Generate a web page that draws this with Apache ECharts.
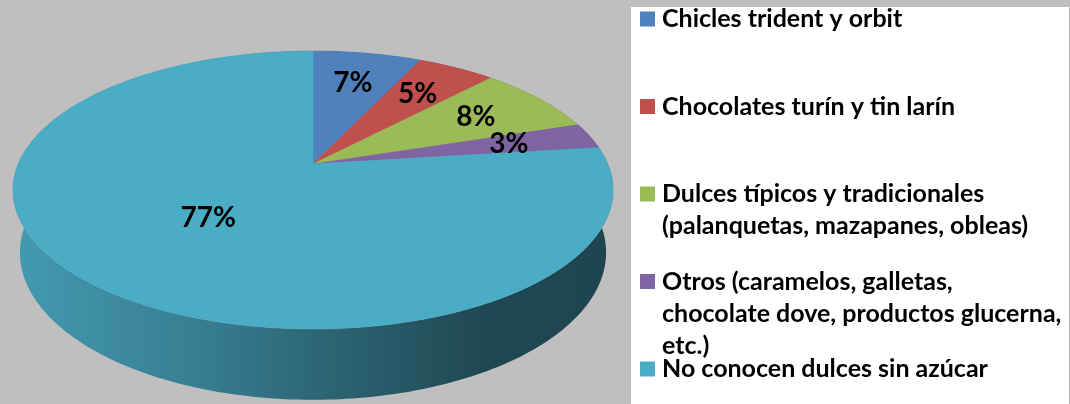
<!DOCTYPE html>
<html>
<head>
<meta charset="utf-8">
<script src="https://cdn.jsdelivr.net/npm/echarts@6/dist/echarts.min.js"></script>
<style>
  html, body { margin: 0; padding: 0; background: #bfbfbf; }
  #chart { width: 1070px; height: 404px; }
</style>
</head>
<body>
<div id="chart"></div>
<script>
// Categories (legend text, wrapped as printed) and their shares in percent
const categories = [
  'Chicles trident y orbit',
  'Chocolates turín y tin larín',
  'Dulces típicos y tradicionales\n(palanquetas, mazapanes, obleas)',
  'Otros (caramelos, galletas,\nchocolate dove, productos glucerna,\netc.)',
  'No conocen dulces sin azúcar'
];
const percentages = [7, 5, 8, 3, 77];
const sliceColors = ['#4f81bd', '#c0504d', '#9bbb59', '#8064a2', '#4bacc6'];

// ---- perspective camera for the tilted 3D pie ----
const CX = 313, CY = 164;            // screen position of the pie centre
const FOCAL = 1403, DIST = 4.76;     // focal length (px) and camera distance (radii)
const SIN_T = 0.455, COS_T = Math.sqrt(1 - SIN_T * SIN_T);  // tilt of the disc
const THICK = 0.24;                  // disc thickness (radii)

// u: right, w: away from viewer, depth: 0 = top face, 1 = bottom face
function project(u, w, depth) {
  const yc = w * SIN_T - depth * THICK * COS_T;
  const zc = DIST + w * COS_T + depth * THICK * SIN_T;
  return [CX + FOCAL * u / zc, CY - FOCAL * yc / zc];
}

function shade(hex, f) {
  const n = parseInt(hex.slice(1), 16);
  const r = Math.round(((n >> 16) & 255) * f);
  const g = Math.round(((n >> 8) & 255) * f);
  const b = Math.round((n & 255) * f);
  return 'rgb(' + r + ',' + g + ',' + b + ')';
}

const total = percentages.reduce((a, b) => a + b, 0);
const startAngles = [];
percentages.reduce((acc, v, i) => { startAngles[i] = acc / total * 2 * Math.PI; return acc + v; }, 0);

const wallLeft = project(-1, -0.19, 0)[0];
const wallRight = project(1, -0.19, 0)[0];

function makeSlice(i) {
  return function (params, api) {
    const value = api.value(0);
    const a0 = startAngles[i];
    const a1 = a0 + value / total * 2 * Math.PI;
    const steps = Math.max(2, Math.ceil((a1 - a0) / (Math.PI / 180)));
    const rimTop = [], rimBottom = [];
    for (let k = 0; k <= steps; k++) {
      const t = a0 + (a1 - a0) * k / steps;
      rimTop.push(project(Math.sin(t), Math.cos(t), 0));
      rimBottom.push(project(Math.sin(t), Math.cos(t), 1));
    }
    const face = [project(0, 0, 0)].concat(rimTop);
    const wall = rimTop.concat(rimBottom.slice().reverse());
    const color = sliceColors[i];
    const mid = (a0 + a1) / 2;
    const lr = value > 50 ? 0.5 : 0.7;
    const lp = project(lr * Math.sin(mid), lr * Math.cos(mid), 0);
    return {
      type: 'group',
      children: [
        {
          type: 'polygon',
          z2: 1,
          shape: { points: wall },
          style: {
            fill: {
              type: 'linear', global: true,
              x: wallLeft, y: 0, x2: wallRight, y2: 0,
              colorStops: [
                { offset: 0, color: shade(color, 0.9) },
                { offset: 0.3, color: shade(color, 0.74) },
                { offset: 0.5, color: shade(color, 0.6) },
                { offset: 0.78, color: shade(color, 0.42) },
                { offset: 1, color: shade(color, 0.4) }
              ]
            }
          }
        },
        {
          type: 'polygon',
          z2: 5,
          shape: { points: face },
          style: { fill: color, stroke: color, lineWidth: 0.6 }
        },
        {
          type: 'text',
          z2: 10,
          x: lp[0], y: lp[1],
          style: {
            text: value + '%',
            align: 'center', verticalAlign: 'middle',
            fontFamily: 'Lato', fontWeight: 'bold', fontSize: 28,
            fill: '#000'
          }
        }
      ]
    };
  };
}

const series = categories.map((name, i) => ({
  type: 'custom',
  name: name,
  coordinateSystem: 'none',
  data: [percentages[i]],
  itemStyle: { color: sliceColors[i] },
  renderItem: makeSlice(i),
  silent: true
}));

// one legend block per entry so every marker sits beside the first line of its text
const LEGEND_LINE = 32;
const legends = categories.map((name, i) => {
  const lines = name.split('\n').length;
  const blockH = (2 * lines - 1) * LEGEND_LINE;
  const centre = 19 + 87.5 * i;
  return {
    data: [name],
    orient: 'vertical',
    left: 640,
    top: centre - blockH / 2,
    padding: 0,
    itemGap: 0,
    icon: 'rect',
    itemWidth: 15,
    itemHeight: 15,
    selectedMode: false,
    formatter: (n) => '\n'.repeat(n.split('\n').length - 1) + n,
    textStyle: {
      fontFamily: 'Lato', fontWeight: 'bold', fontSize: 25,
      lineHeight: LEGEND_LINE, color: '#000', padding: [0, 0, 0, 2]
    }
  };
});

const chart = echarts.init(document.getElementById('chart'), null, { renderer: 'canvas' });
chart.setOption({
  backgroundColor: '#bfbfbf',
  animation: false,
  graphic: [{
    type: 'rect', z: 0, silent: true,
    shape: { x: 631, y: 7, width: 438, height: 397 },
    style: { fill: '#ffffff' }
  }],
  legend: legends,
  series: series
});
</script>
</body>
</html>
